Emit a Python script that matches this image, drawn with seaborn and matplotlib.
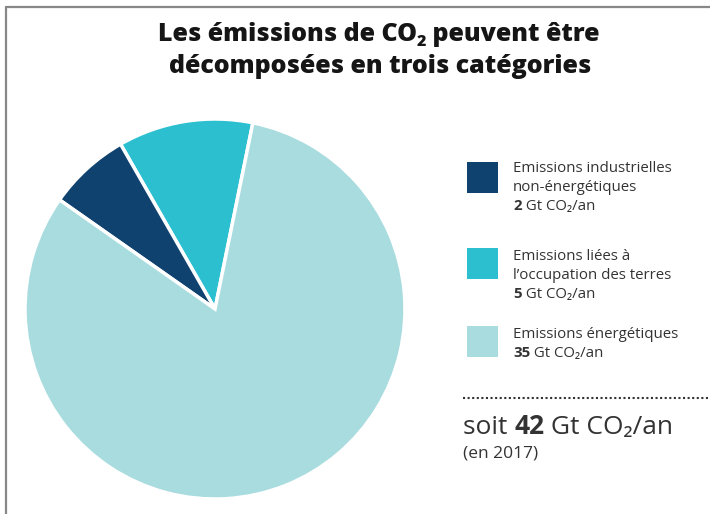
import matplotlib
matplotlib.use("Agg")
import matplotlib.pyplot as plt
from matplotlib.lines import Line2D
from matplotlib.patches import Rectangle
import seaborn as sns

sns.set_theme(style="white")
plt.rcParams["font.family"] = ["Open Sans", "DejaVu Sans"]

# Data (slice shares; labels show stated values)
categories = ["Emissions liées à\nl’occupation des terres",
              "Emissions industrielles\nnon-énergétiques",
              "Emissions énergétiques"]
slice_shares = [4.82, 2.93, 34.25]
stated_values = ["5", "2", "35"]
colors = ["#2cbfd0", "#10426f", "#a8dcdf"]
total_value = "42"
year_note = "(en 2017)"
unit = " Gt CO₂/an"
title_line1 = [("Les émissions de CO", 0), ("2", 1), (" peuvent être", 0)]
title_line2 = "décomposées en trois catégories"

# legend order (top to bottom)
legend_order = [1, 0, 2]

W, H = 710, 514
fig = plt.figure(figsize=(W / 100, H / 100), dpi=100)
fx = lambda x: x / W
fy = lambda y: 1 - y / H
renderer = fig.canvas.get_renderer()

# pie axes: center (215, 309), radius 190
r = 190
ax = fig.add_axes([fx(215 - r), fy(309 + r), 2 * r / W, 2 * r / H])
ax.pie(slice_shares, colors=colors, startangle=78.5, counterclock=True,
       wedgeprops=dict(edgecolor="white", linewidth=2.5))
ax.set_aspect("equal")
ax.set_xlim(-1, 1)
ax.set_ylim(-1, 1)
ax.axis("off")

# frame lines
fig.add_artist(Line2D([fx(6), fx(6)], [fy(7), 0], color="#888888", lw=1.6))
fig.add_artist(Line2D([fx(6), 1], [fy(7), fy(7)], color="#888888", lw=1.6))

# title (line 1 with a real subscript 2)
title_col = "#151515"
tsize, subsize = 18, 11.5
pieces = []
total_w = 0
for s, is_sub in title_line1:
    t = fig.text(0, 0, s, ha="left", va="baseline", fontsize=subsize if is_sub else tsize,
                 fontweight="heavy", color=title_col)
    w = t.get_window_extent(renderer=renderer).width
    pieces.append((t, w, is_sub))
    total_w += w
xcur = 379 - total_w / 2
for t, w, is_sub in pieces:
    t.set_position((fx(xcur), fy(41 + (5 if is_sub else 0))))
    xcur += w
fig.text(fx(380), fy(73), title_line2, ha="center", va="baseline", fontsize=tsize,
         fontweight="heavy", color=title_col)

txt_col = "#333333"


def chain(x, y_base, parts, size):
    """parts: list of (text, weight); drawn one after another on one baseline."""
    xpix = x
    for s, w in parts:
        t = fig.text(fx(xpix), fy(y_base), s, ha="left", va="baseline",
                     fontsize=size, fontweight=w, color=txt_col)
        xpix += t.get_window_extent(renderer=renderer).width


leg_size = 10.8
first_line = [167, 255, 333]
sq_y = [162, 248, 326]
for k, idx in enumerate(legend_order):
    y0 = sq_y[k]
    fig.add_artist(Rectangle((fx(467), fy(y0 + 31)), 31 / W, 31 / H,
                             transform=fig.transFigure, color=colors[idx], lw=0))
    yy = first_line[k] + 5
    for ln in categories[idx].split("\n"):
        fig.text(fx(513), fy(yy), ln, ha="left", va="baseline", fontsize=leg_size, color=txt_col)
        yy += 19
    chain(513, yy, [(stated_values[idx], "bold"), (unit, "normal")], leg_size)

# dotted separator
fig.add_artist(Line2D([fx(463), fx(708)], [fy(398), fy(398)], color="#333333",
                      lw=1.5, linestyle=(0, (1, 1.2))))

chain(463, 434, [("soit ", "normal"), (total_value, "bold"), (unit, "normal")], 19)
fig.text(fx(463), fy(457), year_note, ha="left", va="baseline", fontsize=12.5, color=txt_col)

fig.savefig("out.png", dpi=100, facecolor="white")
